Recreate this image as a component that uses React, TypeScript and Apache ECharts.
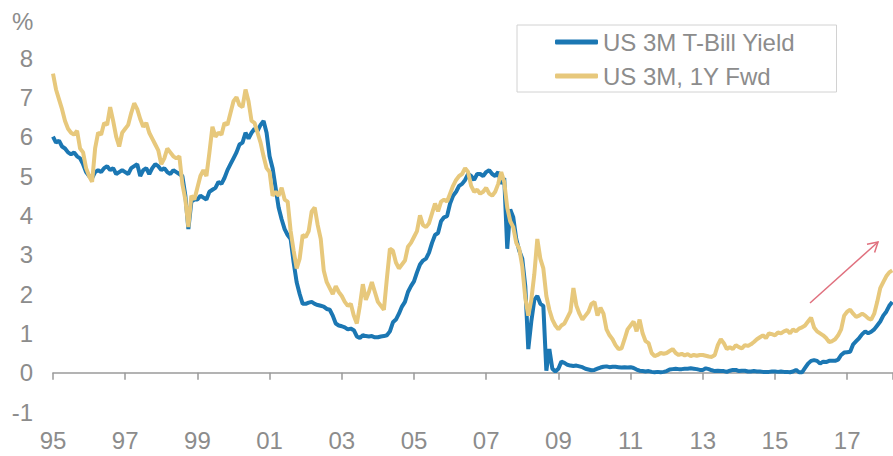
import React, { useEffect, useRef } from "react";
import * as echarts from "echarts";

// Monthly observations, Jan 1995 – Apr 2018 (%)
const startYear = 1995;

const tbillYield: number[] = [
  6.0, 5.85, 5.9, 5.75, 5.7, 5.6, 5.55, 5.6, 5.5, 5.45, 5.3, 5.1,
  5.0, 4.95, 5.1, 5.15, 5.1, 5.2, 5.25, 5.15, 5.2, 5.05, 5.1, 5.15,
  5.1, 5.05, 5.2, 5.25, 5.3, 5.0, 5.15, 5.2, 5.05, 5.2, 5.3, 5.25,
  5.15, 5.2, 5.1, 5.05, 5.15, 5.1, 5.05, 5.0, 4.5, 3.65, 4.35, 4.4,
  4.4, 4.5, 4.45, 4.4, 4.6, 4.65, 4.7, 4.85, 4.8, 4.95, 5.15, 5.3,
  5.45, 5.6, 5.8, 5.85, 6.1, 5.95, 6.1, 6.2, 6.15, 6.3, 6.4, 6.1,
  5.5, 5.2, 4.7, 4.2, 3.9, 3.65, 3.5, 3.4, 2.8, 2.3, 2.0, 1.75,
  1.75, 1.78, 1.8, 1.75, 1.72, 1.7, 1.68, 1.62, 1.6, 1.45, 1.25, 1.2,
  1.18, 1.15, 1.1, 1.12, 1.08, 0.92, 0.88, 0.95, 0.93, 0.92, 0.93, 0.9,
  0.9, 0.92, 0.93, 0.95, 1.05, 1.28, 1.35, 1.5, 1.68, 1.8, 2.05, 2.2,
  2.32, 2.55, 2.75, 2.85, 2.9, 3.05, 3.3, 3.5, 3.55, 3.85, 3.95, 3.98,
  4.3, 4.5, 4.6, 4.75, 4.8, 4.9, 5.05, 5.0, 4.9, 5.05, 5.05, 5.0,
  5.1, 5.15, 5.05, 5.0, 5.1, 4.8, 4.95, 3.15, 4.15, 3.95, 3.4, 3.1,
  2.9, 2.2, 0.6, 1.3, 1.85, 1.95, 1.75, 1.7, 0.05, 0.6, 0.1, 0.03,
  0.1, 0.28, 0.25, 0.2, 0.18, 0.17, 0.18, 0.16, 0.14, 0.1, 0.08, 0.06,
  0.07, 0.1, 0.13, 0.15, 0.16, 0.14, 0.15, 0.15, 0.14, 0.13, 0.14, 0.13,
  0.14, 0.12, 0.08, 0.05, 0.04, 0.03, 0.04, 0.02, 0.01, 0.02, 0.01, 0.02,
  0.04, 0.08, 0.09, 0.1, 0.09, 0.09, 0.1, 0.1, 0.11, 0.1, 0.09, 0.07,
  0.07, 0.11, 0.09, 0.06, 0.04, 0.05, 0.04, 0.04, 0.02, 0.05, 0.07, 0.07,
  0.04, 0.05, 0.05, 0.03, 0.03, 0.04, 0.03, 0.03, 0.02, 0.02, 0.02, 0.03,
  0.03, 0.02, 0.03, 0.02, 0.02, 0.01, 0.03, 0.07, 0.01, 0.01, 0.12, 0.23,
  0.3, 0.32, 0.3, 0.23, 0.28, 0.27, 0.3, 0.3, 0.3, 0.33, 0.45, 0.51,
  0.52, 0.53, 0.72, 0.8, 0.88, 0.98, 1.05, 1.0, 1.04, 1.1, 1.2, 1.3,
  1.45, 1.55, 1.7, 1.8,
];

const fwdYield: number[] = [
  7.6, 7.2, 6.95, 6.7, 6.4, 6.2, 6.1, 6.05, 6.15, 5.7, 5.6, 5.2,
  5.0, 4.85, 5.7, 6.1, 6.05, 6.35, 6.3, 6.75, 6.4, 6.0, 5.75, 6.1,
  6.2, 6.3, 6.6, 6.85, 6.7, 6.45, 6.25, 6.35, 6.1, 5.95, 5.8, 5.65,
  5.3, 5.45, 5.7, 5.6, 5.5, 5.45, 5.5, 4.8, 4.4, 3.7, 4.5, 4.4,
  4.7, 5.0, 5.15, 5.0, 5.6, 6.25, 6.0, 6.1, 6.05, 6.35, 6.3, 6.6,
  6.9, 7.0, 6.8, 6.75, 7.2, 6.9, 6.4, 6.35, 6.1, 5.85, 5.5, 5.2,
  5.1, 4.5, 4.6, 4.5, 4.7, 4.4, 4.35, 3.6, 3.1, 2.65, 2.9, 3.5,
  3.45, 3.6, 4.1, 4.2, 3.75, 3.4, 2.6, 2.3, 2.15, 2.0, 2.2, 2.05,
  1.95, 1.8, 1.7, 1.75, 1.45, 1.25, 1.7, 2.25, 1.85, 2.05, 2.3, 2.05,
  1.8, 1.7, 1.6, 2.4, 3.15, 3.1, 2.8, 2.65, 2.75, 2.85, 3.2, 3.3,
  3.45, 3.6, 4.0, 3.75, 3.7, 3.8, 4.05, 4.3, 4.1, 4.35, 4.4, 4.35,
  4.55, 4.75, 4.9, 5.0, 5.05, 5.2, 5.1, 4.75, 4.6, 4.65, 4.55, 4.6,
  4.7, 4.55, 4.5, 4.6, 4.8, 5.1, 4.85, 4.2, 3.85, 3.7, 3.3, 3.15,
  2.7, 1.9, 1.45, 1.85, 2.5, 3.4, 2.9, 2.65, 1.95, 1.6, 1.35, 1.2,
  1.1, 1.2, 1.25, 1.4, 1.55, 2.15, 1.7, 1.5, 1.35, 1.45, 1.55, 1.75,
  1.8, 1.45, 1.65, 1.5, 1.1, 0.95, 0.85, 0.7, 0.6, 0.62, 0.85, 1.1,
  1.2, 1.3, 1.05, 1.35, 1.0, 0.8, 0.75, 0.5, 0.42, 0.45, 0.5, 0.48,
  0.5, 0.55, 0.6, 0.5, 0.45, 0.48, 0.44, 0.47, 0.42, 0.45, 0.43, 0.45,
  0.45, 0.43, 0.41, 0.4, 0.45, 0.7, 0.85, 0.75, 0.6, 0.65, 0.6, 0.7,
  0.65, 0.62, 0.7, 0.68, 0.72, 0.78, 0.85, 0.9, 0.95, 0.88, 1.0, 0.98,
  0.95, 1.02, 1.0, 1.05, 1.08, 1.0, 1.1, 1.05, 1.12, 1.15, 1.2, 1.3,
  1.4, 1.15, 1.05, 1.0, 0.95, 0.88, 0.78, 0.8, 0.85, 0.95, 1.1, 1.45,
  1.55, 1.6, 1.5, 1.42, 1.45, 1.5, 1.45, 1.38, 1.35, 1.5, 1.8, 2.15,
  2.3, 2.45, 2.55, 2.6,
];

const seriesNames = ["US 3M T-Bill Yield", "US 3M, 1Y Fwd"];
const seriesColors = ["#1B77B3", "#E7C87C"];

const FONT = "'Liberation Sans', Arial, sans-serif";
const GREY = "#8c8c8c";

// x is measured in years since January of startYear
const toPoints = (vals: number[]) => vals.map((v, i) => [i / 12, v]);
const yearLabel = (v: number) =>
  String(Math.round(startYear + v) % 100).padStart(2, "0");

export default function App() {
  const ref = useRef<HTMLDivElement>(null);

  useEffect(() => {
    if (!ref.current) return;
    const chart = echarts.init(ref.current, undefined, { renderer: "svg" });
    const xMax = 23.27;

    chart.setOption({
      animation: false,
      backgroundColor: "#ffffff",
      grid: { left: 53, right: 0, top: 58, bottom: 44, containLabel: false },
      legend: {
        orient: "vertical",
        left: 517,
        top: 25,
        padding: [4, 41, 3, 38],
        itemGap: 8,
        itemWidth: 43,
        itemHeight: 5,
        icon: "roundRect",
        borderColor: "#d2d2d2",
        borderWidth: 1,
        textStyle: { fontSize: 24, color: GREY, fontFamily: FONT, lineHeight: 26 },
        data: seriesNames,
      },
      xAxis: [
        {
          // year labels along the bottom edge
          type: "value",
          position: "bottom",
          min: 0,
          max: xMax,
          interval: 2,
          splitLine: { show: false },
          axisLine: { show: false, onZero: false },
          axisTick: { show: false },
          axisLabel: {
            show: true,
            margin: 16,
            showMaxLabel: false,
            fontSize: 24,
            color: GREY,
            fontFamily: FONT,
            formatter: yearLabel,
          },
        },
        {
          // baseline with ticks drawn at y = 0
          type: "value",
          position: "top",
          min: 0,
          max: xMax,
          interval: 2,
          splitLine: { show: false },
          axisLine: { show: true, onZero: true, lineStyle: { color: "#9a9a9a", width: 1.5 } },
          axisTick: { show: true, inside: true, length: 7, lineStyle: { color: "#9a9a9a", width: 1.5 } },
          axisLabel: { show: false },
        },
      ],
      yAxis: {
        type: "value",
        min: -1,
        max: 8,
        interval: 1,
        splitLine: { show: false },
        axisLine: { show: false },
        axisTick: { show: false },
        axisLabel: { margin: 20, fontSize: 24, color: GREY, fontFamily: FONT },
      },
      graphic: [
        {
          type: "text",
          left: 12,
          top: 9,
          style: { text: "%", font: `24px ${FONT}`, fill: GREY },
        },
        {
          type: "group",
          children: [
            {
              type: "line",
              shape: { x1: 810, y1: 303, x2: 878, y2: 242 },
              style: { stroke: "#E0707E", lineWidth: 1.5 },
            },
            {
              type: "polyline",
              shape: { points: [[867, 244.3], [878, 242], [874.6, 252.5]] },
              style: { stroke: "#E0707E", lineWidth: 1.5, fill: "none" },
            },
          ],
        },
      ],
      series: [
        {
          name: seriesNames[0],
          type: "line",
          xAxisIndex: 0,
          data: toPoints(tbillYield),
          showSymbol: false,
          symbol: "none",
          color: seriesColors[0],
          lineStyle: { width: 4, color: seriesColors[0] },
          z: 2,
        },
        {
          name: seriesNames[1],
          type: "line",
          xAxisIndex: 0,
          data: toPoints(fwdYield),
          showSymbol: false,
          symbol: "none",
          color: seriesColors[1],
          lineStyle: { width: 4, color: seriesColors[1] },
          z: 3,
        },
      ],
    });

    return () => chart.dispose();
  }, []);

  return (
    <div
      ref={ref}
      style={{ position: "fixed", left: 0, top: 0, width: 893, height: 456 }}
    />
  );
}
